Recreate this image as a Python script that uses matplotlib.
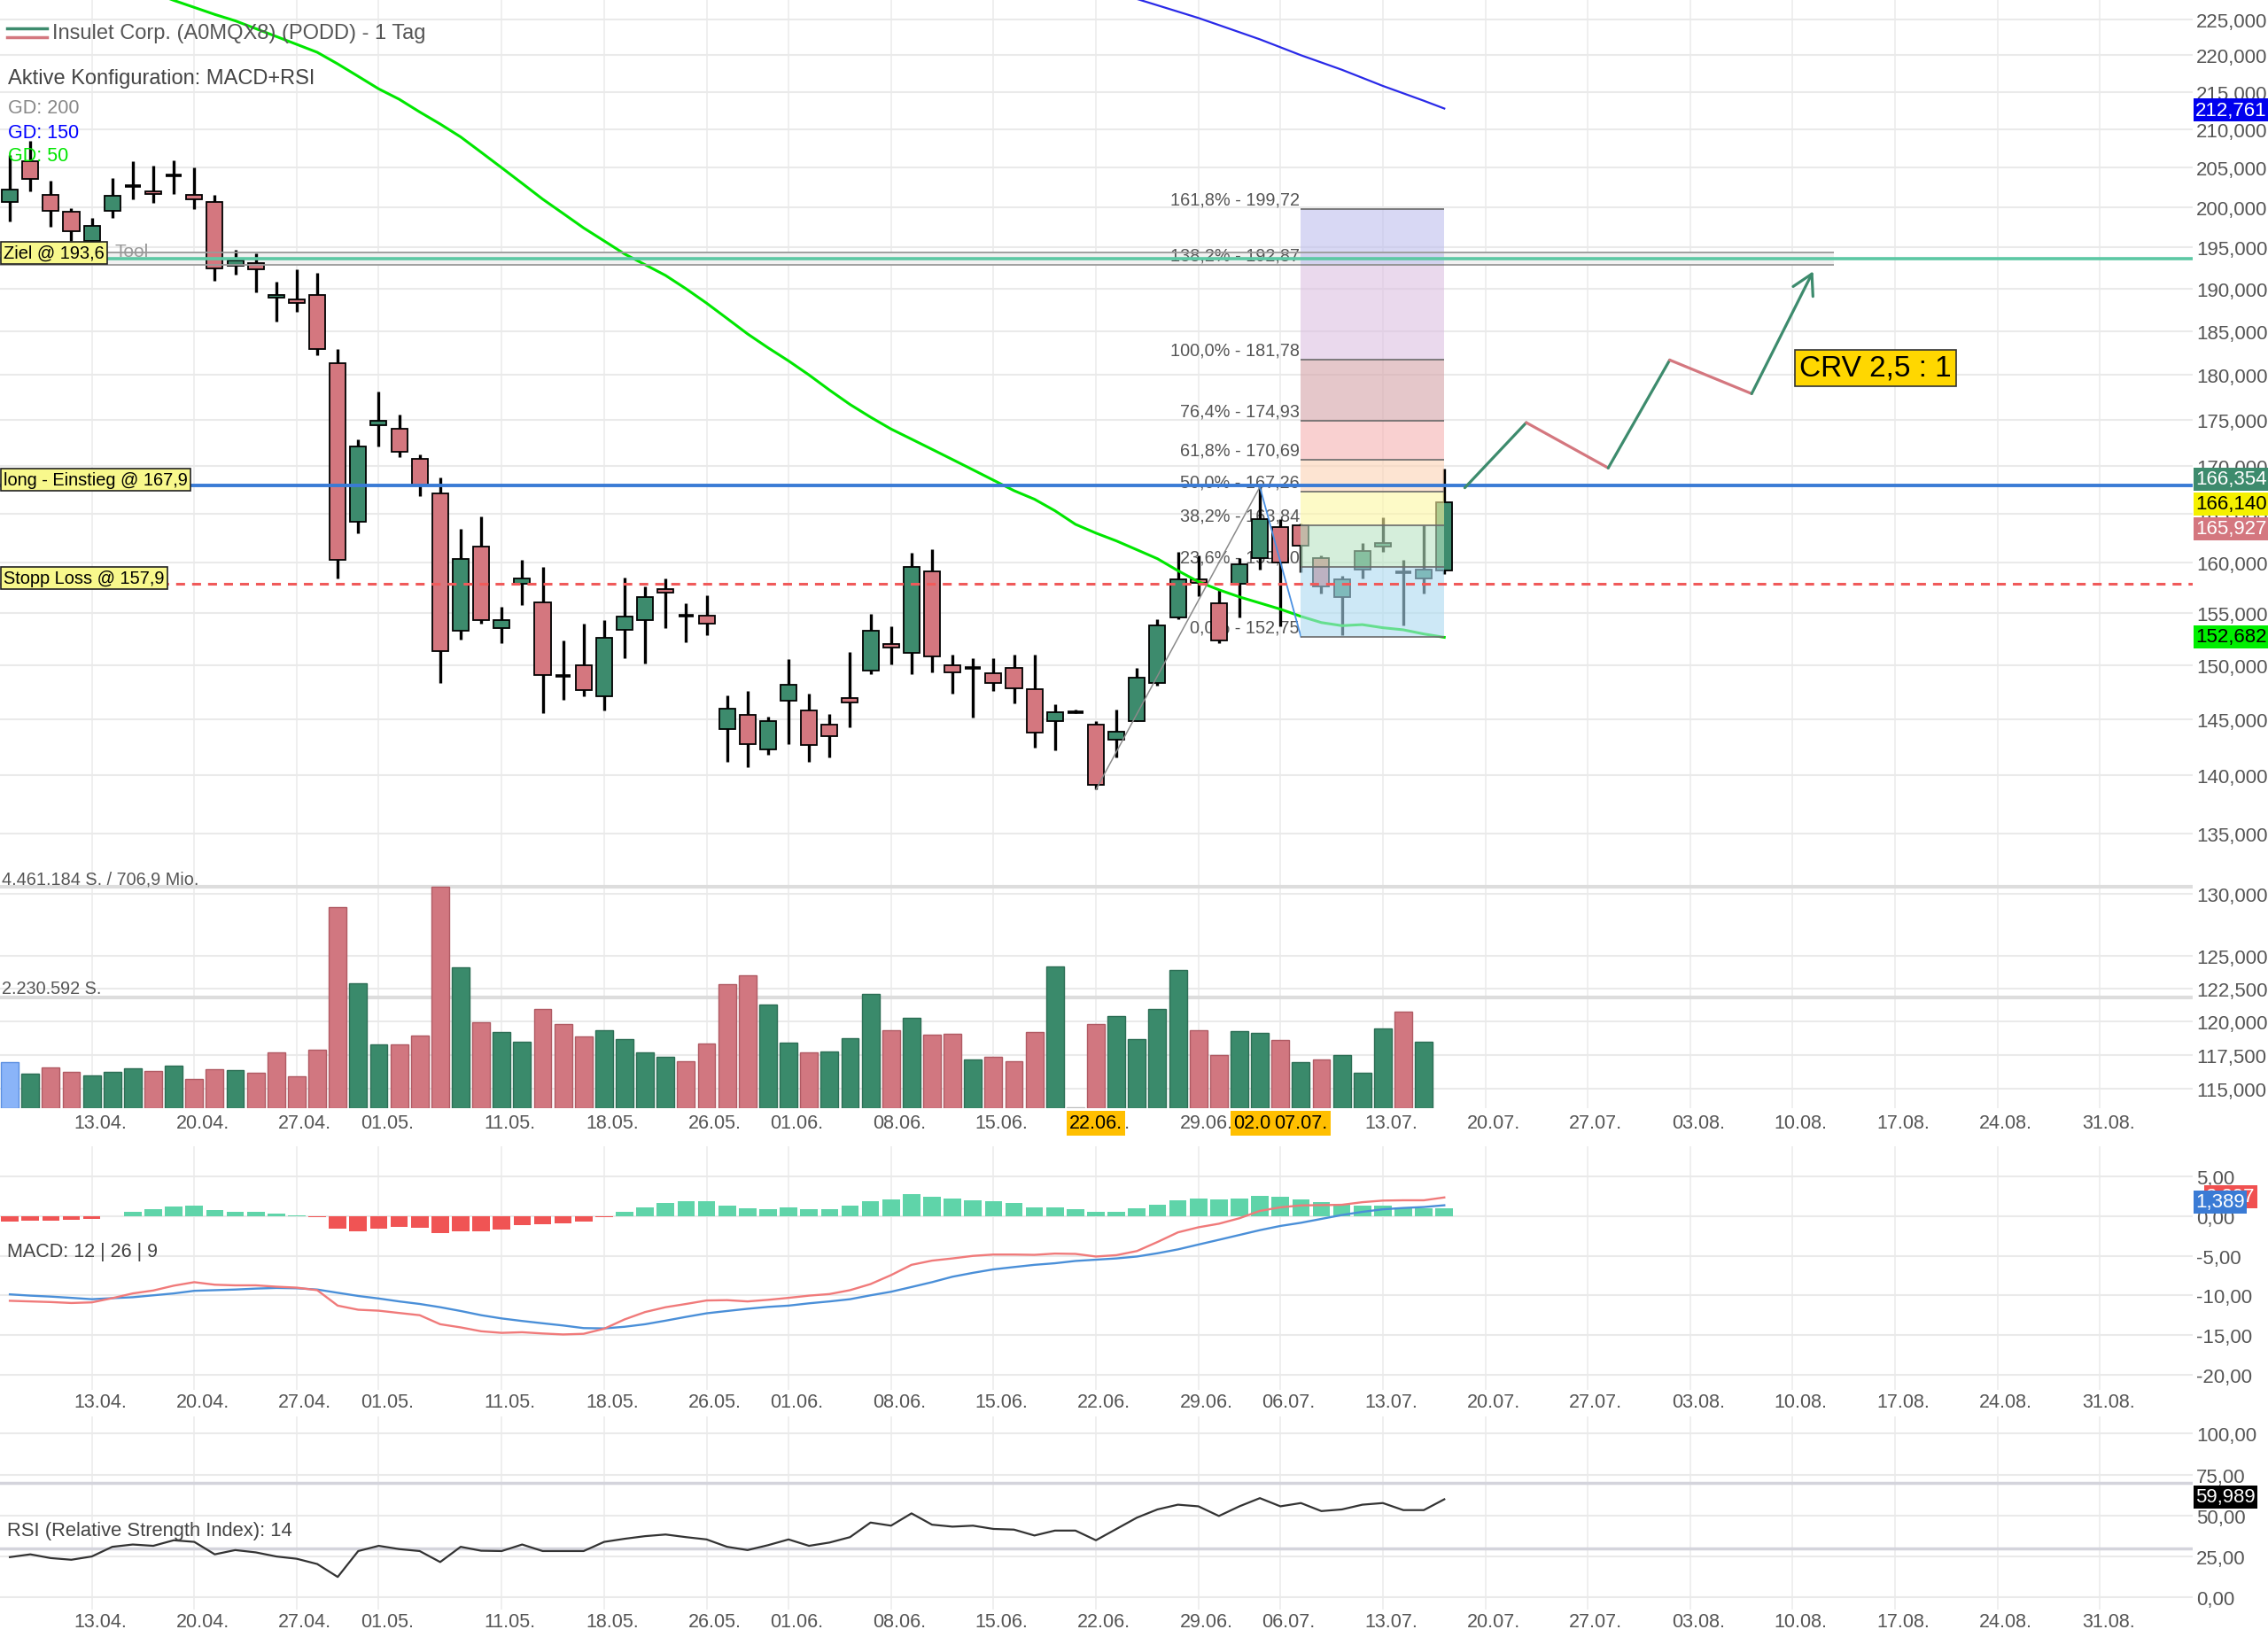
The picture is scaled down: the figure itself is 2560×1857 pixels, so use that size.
import numpy as np
import matplotlib.pyplot as plt
from matplotlib.lines import Line2D

plt.rcParams['font.family'] = ['Liberation Sans', 'DejaVu Sans']

W, H = 2560, 1858
RIGHT = 2475  # right edge of the plot area in px

# ---------------- data ----------------
# daily candles, index 0 = first visible trading day (06.04.)
opens = [200.6, 205.8, 201.5, 199.4, 195.8, 199.5, 202.7, 202.0, 204.0, 201.5,
         200.6, 192.8, 193.1, 189.0, 188.7, 189.3, 181.3, 164.2, 174.4, 174.05,
         170.8, 167.1, 153.3, 161.6, 153.55, 157.9, 156.1, 149.0, 150.0, 147.1,
         153.4, 154.3, 157.4, 154.8, 154.8, 144.1, 145.4, 142.3, 146.7, 145.8,
         144.5, 147.0, 149.5, 152.0, 151.2, 159.1, 150.0, 149.8, 149.3, 149.8,
         147.8, 144.85, 145.7, 144.5, 143.2, 144.9, 148.35, 154.6, 158.3, 155.95,
         157.9, 160.5, 163.6, 163.8, 160.5, 156.6, 159.3, 161.6, 159.0, 158.45,
         159.2]
highs = [206.6, 208.5, 203.3, 199.9, 198.6, 203.7, 205.8, 205.3, 205.9, 205.0,
         201.5, 194.7, 194.3, 190.9, 192.3, 191.9, 183.0, 172.9, 178.1, 175.6,
         171.2, 168.8, 163.4, 164.7, 155.6, 160.3, 159.6, 152.4, 154.0, 154.3,
         158.5, 157.6, 158.4, 156.0, 156.75, 147.2, 147.6, 145.3, 150.6, 147.4,
         145.5, 151.3, 154.9, 153.7, 161.0, 161.4, 151.0, 150.7, 150.7, 151.0,
         151.0, 146.4, 145.9, 144.9, 145.9, 149.8, 154.4, 161.1, 160.7, 157.3,
         160.5, 167.78, 164.4, 164.0, 160.7, 158.7, 162.0, 164.6, 160.3, 163.8,
         169.7]
lows = [198.2, 202.0, 197.5, 195.8, 195.0, 198.6, 201.0, 200.5, 201.7, 199.7,
        191.0, 191.7, 189.6, 186.1, 187.3, 182.2, 158.4, 163.0, 172.1, 170.95,
        166.8, 148.35, 152.5, 154.0, 152.1, 155.8, 145.6, 146.8, 147.1, 145.8,
        150.7, 150.2, 153.55, 152.2, 152.9, 141.2, 140.7, 141.8, 142.8, 141.2,
        141.6, 144.3, 149.2, 150.1, 149.2, 149.4, 147.4, 145.2, 147.6, 146.5,
        142.5, 142.2, 145.6, 138.77, 141.6, 144.85, 148.15, 154.4, 156.7, 152.1,
        154.6, 159.3, 153.7, 159.0, 156.9, 152.9, 158.4, 161.1, 153.8, 156.9,
        158.9]
closes = [202.2, 203.6, 199.5, 197.0, 197.7, 201.4, 202.7, 201.6, 204.0, 201.0,
          192.4, 193.4, 192.3, 189.3, 188.35, 183.0, 160.3, 172.1, 174.9, 171.5,
          167.9, 151.4, 160.4, 154.3, 154.3, 158.4, 149.1, 149.0, 147.7, 152.6,
          154.7, 156.6, 157.0, 154.8, 154.0, 146.0, 142.8, 144.9, 148.2, 142.7,
          143.5, 146.6, 153.3, 151.7, 159.6, 150.9, 149.4, 149.8, 148.35, 147.9,
          143.8, 145.7, 145.7, 139.2, 143.9, 148.9, 153.8, 158.3, 158.0, 152.4,
          159.8, 164.4, 160.0, 161.7, 157.6, 158.3, 161.2, 162.0, 159.0, 159.3,
          166.14]

# volume in million shares (last day has no bar yet)
volume = [0.925, 0.703, 0.817, 0.733, 0.667, 0.739, 0.800, 0.746, 0.859, 0.590,
          0.792, 0.769, 0.710, 1.122, 0.649, 1.186, 4.060, 2.522, 1.283, 1.283,
          1.472, 4.461, 2.839, 1.740, 1.533, 1.342, 1.998, 1.699, 1.443, 1.569,
          1.390, 1.127, 1.032, 0.948, 1.311, 2.510, 2.683, 2.087, 1.318, 1.122,
          1.139, 1.418, 2.313, 1.574, 1.824, 1.479, 1.508, 0.989, 1.037, 0.943,
          1.544, 2.867, 0.018, 1.694, 1.860, 1.401, 2.009, 2.785, 1.569, 1.068,
          1.556, 1.515, 1.372, 0.936, 0.984, 1.073, 0.721, 1.615, 1.944, 1.336]
vol_kind = "bgrrgggrgr" "rgrrrrrggr" "rrgrggrrrg" "gggrrrrggr" "gggrgrrgrr" \
           "rgnrggggrr" "ggrgrgggrg"
vol_max = 4.461184  # scale line "4.461.184 S."

# moving averages
gd50_start = 7
gd50 = [228.8, 227.7, 226.7, 225.7, 224.8, 223.7, 222.6, 221.5, 220.4, 218.8,
        217.1, 215.4, 214.0, 212.3, 210.7, 209.0, 207.0, 205.0, 203.0, 201.0,
        199.2, 197.4, 195.8, 194.2, 192.9, 191.6, 190.0, 188.3, 186.5, 184.7,
        183.1, 181.6, 180.0, 178.3, 176.7, 175.3, 174.0, 172.9, 171.8, 170.7,
        169.6, 168.5, 167.4, 166.5, 165.3, 163.9, 163.0, 162.2, 161.3, 160.4,
        159.2, 158.1, 157.3, 156.6, 156.0, 155.4, 154.7, 154.1, 153.8, 153.9,
        153.6, 153.4, 153.0, 152.68]
gd150_start = 54
gd150 = [228.9, 227.9, 227.0, 226.1, 225.2, 224.2, 223.2, 222.2, 221.1, 220.0,
         219.0, 218.0, 216.9, 215.8, 214.8, 213.8, 212.76]

# MACD 12/26/9
macd = [-10.67, -10.75, -10.83, -10.95, -10.87, -10.34, -9.74, -9.37, -8.76, -8.32,
        -8.64, -8.72, -8.72, -8.89, -9.01, -9.33, -11.28, -11.80, -11.92, -12.21,
        -12.49, -13.63, -14.03, -14.52, -14.72, -14.64, -14.80, -14.92, -14.84, -14.20,
        -13.02, -12.09, -11.48, -11.07, -10.63, -10.59, -10.75, -10.55, -10.30, -10.02,
        -9.82, -9.33, -8.56, -7.43, -6.13, -5.60, -5.32, -5.00, -4.83, -4.83,
        -4.87, -4.71, -4.75, -5.08, -4.91, -4.39, -3.25, -2.03, -1.39, -0.94,
        -0.25, 0.68, 1.13, 1.37, 1.41, 1.45, 1.78, 1.98, 2.02, 2.02, 2.38]
signal = [-9.86, -10.02, -10.14, -10.30, -10.47, -10.34, -10.22, -9.98, -9.74, -9.41,
          -9.33, -9.25, -9.13, -9.05, -9.09, -9.25, -9.66, -10.06, -10.38, -10.75,
          -11.07, -11.48, -11.96, -12.49, -12.90, -13.22, -13.51, -13.79, -14.12, -14.16,
          -13.95, -13.63, -13.18, -12.70, -12.25, -11.96, -11.68, -11.44, -11.28, -10.99,
          -10.75, -10.47, -9.98, -9.53, -8.93, -8.32, -7.63, -7.14, -6.70, -6.41,
          -6.13, -5.93, -5.64, -5.48, -5.32, -5.08, -4.67, -4.18, -3.57, -2.97,
          -2.36, -1.75, -1.22, -0.82, -0.33, 0.16, 0.56, 0.88, 1.05, 1.17, 1.39]
hist = [-0.65, -0.55, -0.50, -0.40, -0.35, 0.05, 0.57, 0.90, 1.18, 1.30,
        0.77, 0.57, 0.53, 0.36, 0.16, -0.08, -1.54, -1.86, -1.54, -1.34,
        -1.46, -2.07, -1.95, -1.86, -1.66, -1.13, -1.05, -0.93, -0.65, -0.16,
        0.57, 1.09, 1.70, 1.90, 1.86, 1.38, 1.01, 0.89, 1.09, 0.93,
        0.89, 1.30, 1.86, 2.10, 2.80, 2.51, 2.19, 1.99, 1.90, 1.70,
        1.09, 1.09, 0.89, 0.57, 0.57, 0.97, 1.50, 2.00, 2.19, 2.10,
        2.19, 2.60, 2.43, 2.10, 1.78, 1.58, 1.38, 1.30, 1.09, 0.97, 1.00]

# RSI 14
rsi = [24.7, 26.4, 24.1, 23.1, 25.1, 31.0, 32.4, 31.6, 35.0, 34.0,
       26.4, 29.0, 27.6, 25.1, 23.7, 20.5, 12.6, 28.4, 31.6, 29.6,
       28.4, 21.7, 31.0, 28.6, 28.4, 32.4, 28.4, 28.4, 28.4, 34.0,
       35.9, 37.5, 38.5, 36.9, 35.5, 31.0, 29.0, 32.0, 35.5, 31.6,
       33.6, 36.9, 45.8, 43.9, 51.4, 44.5, 43.3, 43.9, 41.9, 41.5,
       37.9, 40.9, 40.9, 35.0, 41.9, 48.8, 53.8, 56.7, 55.7, 49.8,
       55.7, 60.7, 55.7, 57.7, 52.8, 53.8, 56.7, 57.7, 53.4, 53.4, 59.99]

# date axis (index of the first trading day of each week)
date_idx = [4, 9, 14, 18, 24, 29, 34, 38, 43, 48, 53, 58, 62, 67, 72, 77, 82, 87, 92, 97, 102]
date_lbl = ['13.04.', '20.04.', '27.04.', '01.05.', '11.05.', '18.05.', '26.05.',
            '01.06.', '08.06.', '15.06.', '22.06.', '29.06.', '06.07.', '13.07.',
            '20.07.', '27.07.', '03.08.', '10.08.', '17.08.', '24.08.', '31.08.']

price_ticks = [115, 117.5, 120, 122.5, 125, 130, 135, 140, 145, 150, 155, 160, 165,
               170, 175, 180, 185, 190, 195, 200, 205, 210, 215, 220, 225]

# trade setup
ziel, einstieg, stopp = 193.6, 167.9, 157.9
band_lo, band_hi, band_end = 192.9, 194.4, 89

# fibonacci extension (A -> B, projected from C)
fib_a = (53, 138.77)
fib_b = (61, 167.78)
fib_c = (63, 152.75)
fib_end = 70
fib_pct = [0.0, 23.6, 38.2, 50.0, 61.8, 76.4, 100.0, 138.2, 161.8]
fib_val = [152.75, 159.60, 163.84, 167.26, 170.69, 174.93, 181.78, 192.87, 199.72]
fib_fill = ['#acdaf0', '#b9e4c3', '#fdf7a3', '#fcd2b4', '#f5b1b1', '#d5a3a8',
            '#dcc0e1', '#bebeed']

# projected path to the target
crv_idx = [71, 74, 78, 81, 85, 88]
crv_price = [167.7, 174.7, 169.8, 181.7, 177.9, 192.1]

GREEN = '#3d8b6d'
RED = '#d4777f'
GREY_TXT = '#555555'


def de(v, nd):
    return f"{v:.{nd}f}".replace('.', ',')


# ---------------- figure ----------------
fig = plt.figure(figsize=(W / 100, H / 100), dpi=100)
fig.patch.set_facecolor('white')


def panel(top, bottom, **kw):
    return fig.add_axes([0, 1 - bottom / H, RIGHT / W, (bottom - top) / H], **kw)


ax = panel(0, 1252)
axm = panel(1295, 1570, sharex=ax)
axr = panel(1600, 1818, sharex=ax)
axv = ax.twinx()

ax.set_xlim(-0.48, 106.52)

for a in (ax, axm, axr, axv):
    for s in a.spines.values():
        s.set_visible(False)

for a in (ax, axm, axr):
    for i in date_idx:
        a.axvline(i, color='#eeeeee', lw=1.3, zorder=0)

ax.set_xticks([i + 0.4 for i in date_idx])
ax.set_xticklabels(date_lbl)
for a, pad in ((ax, 4), (axm, 2), (axr, 2)):
    a.tick_params(axis='x', length=0, labelsize=15.5, labelcolor=GREY_TXT, pad=pad)
    a.yaxis.tick_right()
    a.tick_params(axis='y', length=0, labelsize=16, labelcolor=GREY_TXT, pad=3)
    a.grid(True, axis='y', color='#eaeaea', lw=1.5, zorder=0)
    a.set_axisbelow(True)

# ---- price panel ----
ax.set_yscale('log')
ax.set_ylim(113.62, 227.88)
ax.yaxis.set_minor_locator(plt.NullLocator())
ax.set_yticks(price_ticks)
ax.set_yticklabels([de(v, 3) for v in price_ticks])

o = np.array(opens)
h = np.array(highs)
l = np.array(lows)
c = np.array(closes)
x = np.arange(len(o))
doji = np.isclose(o, c)
col = np.where(c >= o, GREEN, RED)

ax.vlines(x, l, h, color='black', lw=2.4, zorder=3)
nd = ~doji
ax.bar(x[nd], np.abs(c - o)[nd], bottom=np.minimum(o, c)[nd], width=0.78,
       color=col[nd], edgecolor='black', lw=1.3, zorder=4)
ax.hlines(o[doji], x[doji] - 0.38, x[doji] + 0.38, color='black', lw=2.6, zorder=4)

ax.plot(np.arange(gd50_start, gd50_start + len(gd50)), gd50, color='#00e600', lw=2.2, zorder=4.5)
ax.plot(np.arange(gd150_start, gd150_start + len(gd150)), gd150, color='#2a2ae8', lw=1.6, zorder=4.5)

# fibonacci zones
for k in range(len(fib_val) - 1):
    ax.fill_between([fib_c[0], fib_end], fib_val[k], fib_val[k + 1], color=fib_fill[k],
                    alpha=0.6, lw=0, zorder=5)
ax.hlines(fib_val, fib_c[0], fib_end, color='#6a6a6a', lw=1.2, zorder=5.5)
for p, v in zip(fib_pct, fib_val):
    ax.annotate(f"{de(p, 1)}% - {de(v, 2)}", xy=(fib_c[0], v), xytext=(-1, 1),
                textcoords='offset points', ha='right', va='bottom', fontsize=14.3,
                color=GREY_TXT, zorder=2)
ax.plot([fib_a[0], fib_b[0]], [fib_a[1], fib_b[1]], color='#8a8a8a', lw=1.1, zorder=4.6)
ax.plot([fib_b[0], fib_c[0]], [fib_b[1], fib_c[1]], color='#4a90e2', lw=1.3, zorder=4.6)

# target zone and setup lines
ax.fill_between([-0.48, band_end], band_lo, band_hi, color='#f1f1f1', lw=0, zorder=1)
ax.hlines([band_lo, band_hi], -0.48, band_end, color='#9a9a9a', lw=1.3, zorder=6)
ax.axhline(ziel, color='#5cc8a4', lw=2.6, zorder=6)
ax.axhline(einstieg, color='#3a7bd5', lw=2.8, zorder=6)
ax.axhline(stopp, color='#f05a5a', lw=2.2, ls=(0, (3.3, 2.6)), zorder=6)

box_kw = dict(boxstyle='square,pad=0.15', fc='#f8f88c', ec='#222222', lw=1.2)
for txt, v in (('Ziel @ 193,6', ziel), ('long - Einstieg @ 167,9', einstieg),
               ('Stopp Loss @ 157,9', stopp)):
    ax.annotate(txt, xy=(0, v), xycoords=('axes fraction', 'data'), xytext=(3, 5),
                textcoords='offset points', ha='left', va='center', fontsize=14.4,
                color='black', bbox=box_kw, zorder=9, annotation_clip=False)

# projected zigzag to the target
for k in range(len(crv_idx) - 2):
    up = crv_price[k + 1] > crv_price[k]
    ax.plot(crv_idx[k:k + 2], crv_price[k:k + 2], color=GREEN if up else RED,
            lw=2.3, solid_capstyle='round', zorder=7)
ax.annotate('', xy=(crv_idx[-1], crv_price[-1]), xytext=(crv_idx[-2], crv_price[-2]),
            arrowprops=dict(arrowstyle='->,head_length=0.8,head_width=0.45', color=GREEN,
                            lw=2.3, mutation_scale=20, shrinkA=0, shrinkB=0), zorder=7)
ax.text(91.05, 180.8, 'CRV 2,5 : 1', fontsize=24, ha='center', va='center', color='black',
        bbox=dict(boxstyle='square,pad=0.15', fc='#ffd700', ec='#333333', lw=1.2), zorder=8)

# highlighted anchor dates on the date row (drawn over the normal labels)
for i, t in ((53, '22.06.'), (61, '02.07.'), (63, '07.07.')):
    ax.annotate(t, xy=(i, 1 - 1269 / H), xycoords=(ax.transData, fig.transFigure),
                ha='center', va='center', fontsize=15.5, color='black',
                bbox=dict(boxstyle='square,pad=0.15', fc='#ffbf00', ec='none'),
                zorder=10, annotation_clip=False)

# ---- volume overlay ----
axv.set_ylim(0, vol_max * 1252 / 249.7)
axv.set_yticks([])
axv.tick_params(right=False, labelright=False)
vcol = {'g': ('#3a8a6b', '#2c6e55'), 'r': ('#d17780', '#b05a63'),
        'b': ('#8ab4f8', '#5b8fe0'), 'n': ('#cccccc', '#bbbbbb')}
vx = np.arange(len(volume))
axv.bar(vx, volume, width=0.86, color=[vcol[k][0] for k in vol_kind],
        edgecolor=[vcol[k][1] for k in vol_kind], lw=1.0, zorder=3)
axv.axhline(vol_max, color='#dddddd', lw=3, zorder=1)
axv.axhline(vol_max / 2, color='#dddddd', lw=3, zorder=1)

# ---- MACD panel ----
axm.set_ylim(-21.92, 8.84)
m_ticks = [5, 0, -5, -10, -15, -20]
axm.set_yticks(m_ticks)
axm.set_yticklabels([de(v, 2) for v in m_ticks])
hcol = ['#5fd4a9' if v >= 0 else '#f05454' for v in hist]
axm.bar(x, hist, width=0.85, color=hcol, zorder=2)
axm.plot(x, signal, color='#4a8fd8', lw=1.7, zorder=3)
axm.plot(x, macd, color='#f07a7a', lw=1.7, zorder=3)

# ---- RSI panel ----
axr.set_ylim(-7.3, 110.54)
r_ticks = [100, 75, 50, 25, 0]
axr.set_yticks(r_ticks)
axr.set_yticklabels([de(v, 2) for v in r_ticks])
axr.axhline(70, color='#d4d4dc', lw=2.5, zorder=1)
axr.axhline(30, color='#d4d4dc', lw=2.5, zorder=1)
axr.plot(x, rsi, color='#333333', lw=1.6, zorder=3)


# ---- texts in pixel positions ----
def fp(px, py):
    return px / W, 1 - py / H


fig.add_artist(Line2D([8 / W, 53 / W], [1 - 33 / H] * 2, color=GREEN, lw=2.5))
fig.add_artist(Line2D([8 / W, 53 / W], [1 - 43 / H] * 2, color=RED, lw=2.5))
fig.text(*fp(59, 38), 'Insulet Corp. (A0MQX8) (PODD) - 1 Tag', fontsize=17,
         color=GREY_TXT, va='center')
fig.text(*fp(9, 89), 'Aktive Konfiguration: MACD+RSI', fontsize=17, color='#444444', va='center')
fig.text(*fp(9, 123), 'GD: 200', fontsize=15.5, color='#888888', va='center')
fig.text(*fp(9, 150), 'GD: 150', fontsize=15.5, color='#0000ff', va='center')
fig.text(*fp(9, 177), 'GD: 50', fontsize=15.5, color='#00e600', va='center')
fig.text(*fp(129, 285), 'Tool', fontsize=15, color='#999999', va='center')

fig.text(*fp(2, 993), '4.461.184 S. / 706,9 Mio.', fontsize=14.3, color=GREY_TXT, va='center')
fig.text(*fp(2, 1117), '2.230.592 S.', fontsize=14.3, color=GREY_TXT, va='center')
fig.text(*fp(8, 1414), 'MACD: 12 | 26 | 9', fontsize=15.5, color='#444444', va='center')
fig.text(*fp(8, 1729), 'RSI (Relative Strength Index): 14', fontsize=15.8, color='#444444', va='center')

side_boxes = [('212,761', 2478, 125, '#0000ee', 'white'),
              ('166,354', 2478, 542, GREEN, 'white'),
              ('166,140', 2478, 570, '#f5f000', 'black'),
              ('165,927', 2478, 598, RED, 'white'),
              ('152,682', 2478, 720, '#00ee00', 'black'),
              ('2,297', 2490, 1352, '#f05050', 'white'),
              ('1,389', 2478, 1358, '#3a7bd5', 'white'),
              ('59,989', 2478, 1691, '#000000', 'white')]
for txt, bx, by, fc, tc in side_boxes:
    fig.text(*fp(bx, by), txt, fontsize=16, color=tc, va='center', ha='left',
             bbox=dict(boxstyle='square,pad=0.1', fc=fc, ec='none'), zorder=5)

fig.savefig('out.png', dpi=100, facecolor='white')
